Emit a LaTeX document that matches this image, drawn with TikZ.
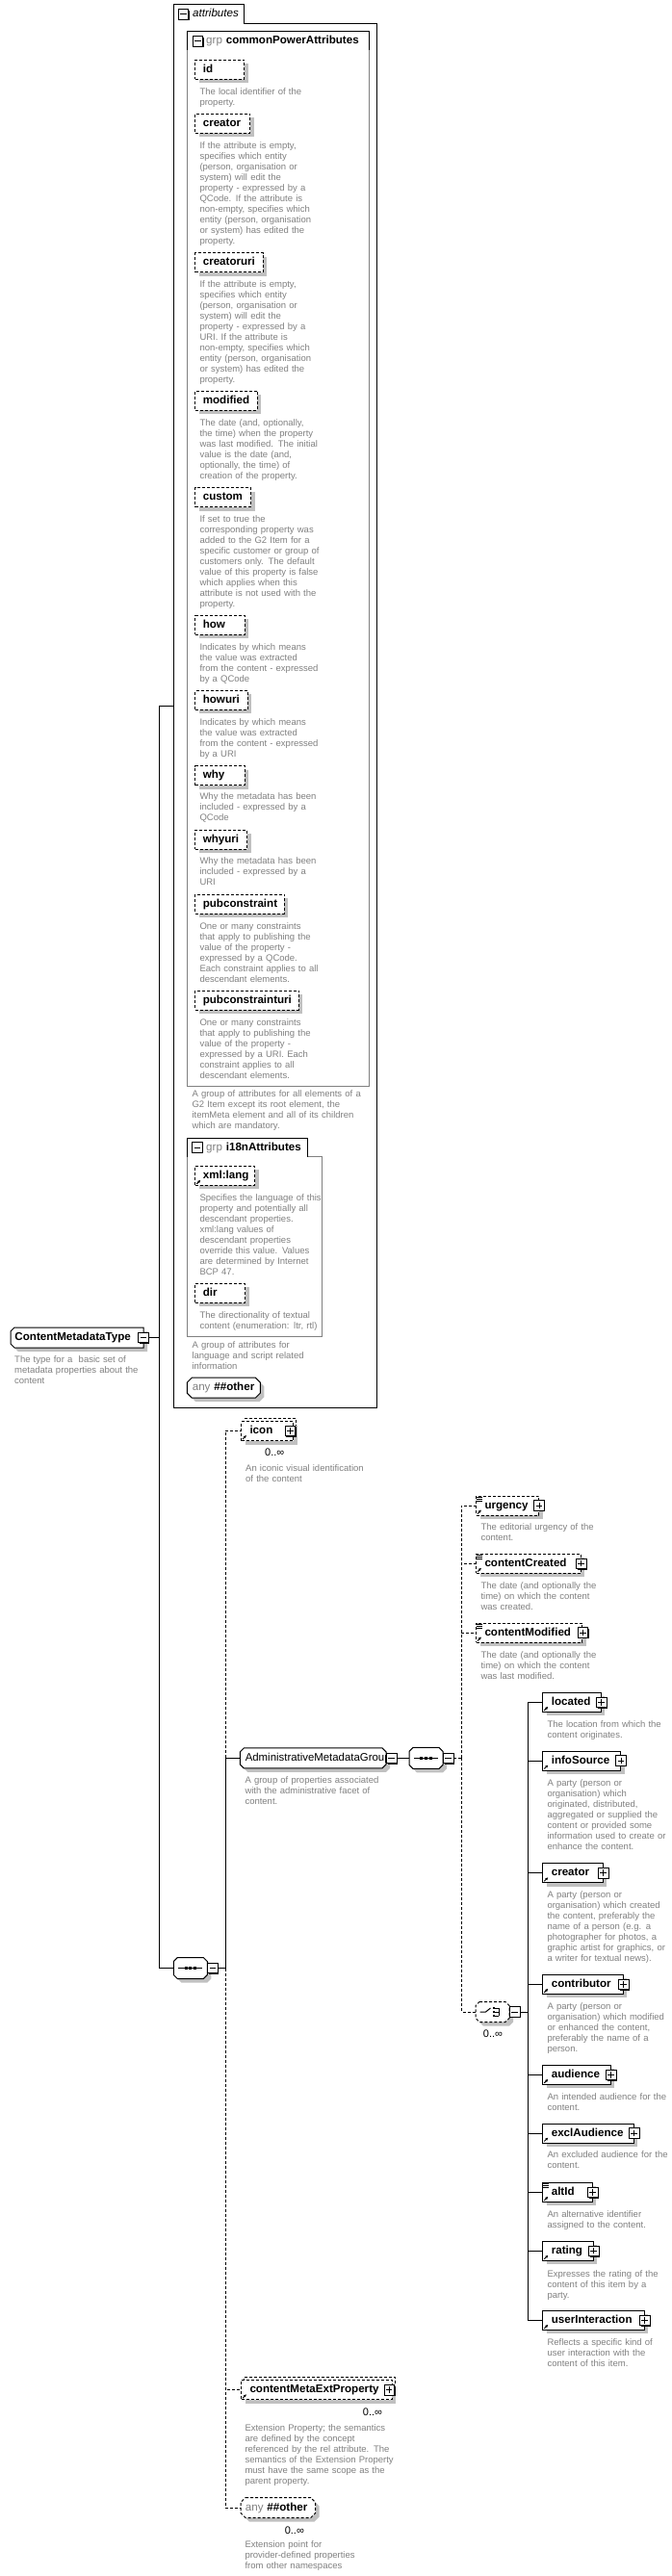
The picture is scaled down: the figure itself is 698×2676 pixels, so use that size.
\documentclass[tikz,border=0pt]{standalone}
\usepackage{fontspec}
\setmainfont{Liberation Sans}
\usetikzlibrary{arrows.meta,positioning,shadows,backgrounds}
\definecolor{descgray}{RGB}{128,128,128}
\definecolor{shadegray}{RGB}{192,192,192}
\hyphenpenalty=10000
\tikzset{
  base/.style={draw, fill=white, line width=1pt, anchor=west, align=left, minimum height=20pt, inner ysep=0pt, text height=8.6pt, text depth=2.4pt, font=\fontsize{11.6}{13}\selectfont\bfseries},
  shaded/.style={drop shadow={shadow xshift=4pt, shadow yshift=-4pt, opacity=1, fill=shadegray}},
  dashline/.style={dash pattern=on 3pt off 2pt},
  attr/.style={base, shaded, dashline, inner xsep=8pt},
  elem/.style={base, shaded, inner xsep=9pt},
  optelem/.style={elem, dashline},
  multi/.style={copy shadow={shadow xshift=3pt, shadow yshift=3pt, fill=white, draw=black, line width=1pt, dashline}},
  textonly/.style={base, draw=none, fill=none},
  compositor/.style={textonly, minimum width=34pt, minimum height=21pt},
  outline/.style={draw, fill=white, line width=1pt, shaded},
  toggle/.style={draw, fill=white, line width=0.8pt, minimum size=10.5pt, inner sep=0pt, drop shadow={shadow xshift=1.2pt, shadow yshift=-1.2pt, opacity=1, fill=black}},
  minus/.style={toggle, path picture={\draw[line width=0.8pt] ([xshift=2pt]path picture bounding box.west) -- ([xshift=-2pt]path picture bounding box.east);}},
  plus/.style={toggle, path picture={\draw[line width=0.8pt] ([xshift=2pt]path picture bounding box.west) -- ([xshift=-2pt]path picture bounding box.east) ([yshift=2pt]path picture bounding box.south) -- ([yshift=-2pt]path picture bounding box.north);}},
  desc/.style={anchor=base west, align=left, text width=240pt, inner sep=0pt, text=descgray, font=\fontsize{9.5}{11}\selectfont},
  occurs/.style={inner sep=0pt, font=\fontsize{11}{13}\selectfont},
  tab/.style={anchor=north west, align=left, minimum height=19pt, inner xsep=4pt, inner ysep=0pt, text height=8.6pt, text depth=2.4pt, font=\fontsize{11.6}{13}\selectfont\bfseries},
  container/.style={anchor=north west, inner sep=0pt},
  frame/.style={line width=1pt},
  grpline/.style={line width=1pt, draw=descgray},
  conn/.style={line width=1pt},
  optconn/.style={conn, dashline},
  refarrow/.style={-{Latex[length=3pt,width=3pt]}, line width=0.9pt}
}
\begin{document}
\begin{tikzpicture}[x=1pt, y=-1pt]
  \useasboundingbox (0,0) rectangle (698,2676);

  % Attributes frame and groups
  \node[container, minimum width=211pt, minimum height=1457.3pt] (attrs) at (180,5) {};
  \node[tab, minimum width=73pt, text width=65pt, font=\fontsize{11.6}{13}\selectfont\itshape] (attrtab) at (180,5) {\hspace*{16pt}attributes};
  \node[container, minimum width=189pt, minimum height=1095pt] (cpagrp) at (194,33) {};
  \node[tab, minimum width=189pt, text width=181pt] (cpatab) at (194,33) {\hspace*{16pt}{\mdseries\color{descgray}grp}\ commonPowerAttributes};
  \node[container, minimum width=140.3pt, minimum height=206pt] (i18ngrp) at (194,1182.3) {};
  \node[tab, minimum width=125.3pt, text width=117.3pt] (i18ntab) at (194,1182.3) {\hspace*{16pt}{\mdseries\color{descgray}grp}\ i18nAttributes};

  \draw[frame] (attrtab.south east) -| (attrs.south east) -| (attrs.north west) -| (attrtab.south east);
  \draw[frame] (cpatab.south west) |- (cpatab.north east) -- (cpatab.south east);
  \draw[grpline] (cpatab.south east) -- (cpagrp.south east) -- (cpagrp.south west) -- (cpatab.south west);
  \draw[frame] (i18ntab.south west) |- (i18ntab.north east) -- (i18ntab.south east);
  \draw[grpline] (i18ntab.south east) -| (i18ngrp.south east) -- (i18ngrp.south west) -- (i18ntab.south west);

  \node[minus] (attrtog) at ([xshift=10.5pt]attrtab.west) {};
  \node[minus] (cpatog) at ([xshift=11.3pt]cpatab.west) {};
  \node[minus] (i18ntog) at ([xshift=11pt]i18ntab.west) {};

  % commonPowerAttributes
  \node[attr, text width=35pt] (id) at (202.3,72.3) {id};
  \node[desc] (iddesc) at (207.3,98.3) {The local identifier of the\\property.};
  \node[attr, text width=41pt] (creator) at (202.3,128.3) {creator};
  \node[desc] (creatordesc) at (207.3,154) {If the attribute is empty,\\specifies which entity\\(person, organisation or\\system) will edit the\\property - expressed by a\\QCode. If the attribute is\\non-empty, specifies which\\entity (person, organisation\\or system) has edited the\\property.};
  \node[attr, text width=54.4pt] (creatoruri) at (202.3,272.7) {creatoruri};
  \node[desc] (creatoruridesc) at (207.3,298) {If the attribute is empty,\\specifies which entity\\(person, organisation or\\system) will edit the\\property - expressed by a\\URI. If the attribute is\\non-empty, specifies which\\entity (person, organisation\\or system) has edited the\\property.};
  \node[attr, text width=48.4pt] (modified) at (202.3,416) {modified};
  \node[desc] (modifieddesc) at (207.3,442.6) {The date (and, optionally,\\the time) when the property\\was last modified. The initial\\value is the date (and,\\optionally, the time) of\\creation of the property.};
  \node[attr, text width=41.7pt] (custom) at (202.3,516.7) {custom};
  \node[desc] (customdesc) at (207.3,542) {If set to true the\\corresponding property was\\added to the G2 Item for a\\specific customer or group of\\customers only. The default\\value of this property is false\\which applies when this\\attribute is not used with the\\property.};
  \node[attr, text width=35.4pt] (how) at (202.3,649.3) {how};
  \node[desc] (howdesc) at (207.3,675) {Indicates by which means\\the value was extracted\\from the content - expressed\\by a QCode};
  \node[attr, text width=38.4pt] (howuri) at (202.3,727.3) {howuri};
  \node[desc] (howuridesc) at (207.3,753.3) {Indicates by which means\\the value was extracted\\from the content - expressed\\by a URI};
  \node[attr, text width=35.4pt] (why) at (202.3,805.7) {why};
  \node[desc] (whydesc) at (207.3,830.6) {Why the metadata has been\\included - expressed by a\\QCode};
  \node[attr, text width=37.7pt] (whyuri) at (202.3,872.3) {whyuri};
  \node[desc] (whyuridesc) at (207.3,897.6) {Why the metadata has been\\included - expressed by a\\URI};
  \node[attr, text width=76.4pt] (pubconstraint) at (202.3,939) {pubconstraint};
  \node[desc] (pubconstraintdesc) at (207.3,965) {One or many constraints\\that apply to publishing the\\value of the property -\\expressed by a QCode.\\Each constraint applies to all\\descendant elements.};
  \node[attr, text width=91.4pt] (pubconstrainturi) at (202.3,1039) {pubconstrainturi};
  \node[desc] (pubconstrainturidesc) at (207.3,1065) {One or many constraints\\that apply to publishing the\\value of the property -\\expressed by a URI. Each\\constraint applies to all\\descendant elements.};
  \node[desc] (cpadesc) at (199.3,1139.3) {A group of attributes for all elements of a\\G2 Item except its root element, the\\itemMeta element and all of its children\\which are mandatory.};

  % i18nAttributes
  \node[attr, text width=45.7pt] (xmllang) at (202.3,1221.3) {xml:lang};
  \node[desc] (xmllangdesc) at (207.3,1247) {Specifies the language of this\\property and potentially all\\descendant properties.\\xml:lang values of\\descendant properties\\override this value. Values\\are determined by Internet\\BCP 47.};
  \node[attr, text width=35.7pt] (dir) at (202.3,1343.3) {dir};
  \node[desc] (dirdesc) at (207.3,1369) {The directionality of textual\\content (enumeration: ltr, rtl)};
  \node[desc] (i18ndesc) at (199.3,1400) {A group of attributes for\\language and script related\\information};
  \node[textonly, minimum width=75pt, inner xsep=5pt, text width=65pt] (anyattr) at (194.3,1441.7) {{\mdseries\color{descgray}any}\ \#\#other};

  % Content model
  \node[textonly, minimum width=137pt, inner xsep=4pt, text width=129pt] (cmt) at (11,1389.5) {ContentMetadataType};
  \node[desc] (cmtdesc) at (15,1415) {The type for a~ basic set of\\metadata properties about the\\content};
  \node[compositor] (seqmain) at (180.3,2044.5) {};
  \node[multi, optelem, text width=36pt] (icon) at (250,1486.5) {icon};
  \node[occurs] (iconocc) at (285.2,1509) {0..∞};
  \node[desc] (icondesc) at (255,1528.3) {An iconic visual identification\\of the content};
  \node[textonly, minimum width=150.7pt, inner xsep=5pt, text width=140.7pt, font=\fontsize{11.4}{13}\selectfont] (admin) at (249.3,1826.4) {AdministrativeMetadataGroup};
  \node[desc] (admindesc) at (254.3,1852) {A group of properties associated\\with the administrative facet of\\content.};
  \node[compositor] (seqa) at (425,1826.4) {};

  \node[optelem, text width=47pt] (urgency) at (494,1564) {urgency};
  \node[desc] (urgencydesc) at (499.3,1589) {The editorial urgency of the\\content.};
  \node[optelem, text width=90.7pt] (contentcreated) at (494,1624.2) {contentCreated};
  \node[desc] (contentcreateddesc) at (499.3,1650) {The date (and optionally the\\time) on which the content\\was created.};
  \node[optelem, text width=92.3pt] (contentmodified) at (494,1696) {contentModified};
  \node[desc] (contentmodifieddesc) at (499.3,1722) {The date (and optionally the\\time) on which the content\\was last modified.};
  \node[compositor, minimum height=20pt] (choice) at (494,2090) {};
  \node[occurs] (choiceocc) at (512,2112.7) {0..∞};

  \node[elem, text width=42.4pt] (located) at (563.3,1768.3) {located};
  \node[desc] (locateddesc) at (568.3,1794) {The location from which the\\content originates.};
  \node[elem, text width=62.7pt] (infosource) at (563.3,1829) {infoSource};
  \node[desc] (infosourcedesc) at (568.3,1855.6) {A party (person or\\organisation) which\\originated, distributed,\\aggregated or supplied the\\content or provided some\\information used to create or\\enhance the content.};
  \node[elem, text width=44.4pt] (creatorel) at (563.3,1945.7) {creator};
  \node[desc] (creatoreldesc) at (568.3,1971) {A party (person or\\organisation) which created\\the content, preferably the\\name of a person (e.g. a\\photographer for photos, a\\graphic artist for graphics, or\\a writer for textual news).};
  \node[elem, text width=65.4pt] (contributor) at (563.3,2061.3) {contributor};
  \node[desc] (contributordesc) at (568.3,2087.3) {A party (person or\\organisation) which modified\\or enhanced the content,\\preferably the name of a\\person.};
  \node[elem, text width=52.4pt] (audience) at (563.3,2155.3) {audience};
  \node[desc] (audiencedesc) at (568.3,2181) {An intended audience for the\\content.};
  \node[elem, text width=76.4pt] (exclaudience) at (563.3,2216) {exclAudience};
  \node[desc] (exclaudiencedesc) at (568.3,2241.6) {An excluded audience for the\\content.};
  \node[elem, text width=33.4pt] (altid) at (563.3,2277.3) {altId};
  \node[desc] (altiddesc) at (568.3,2303) {An alternative identifier\\assigned to the content.};
  \node[elem, text width=34.4pt] (rating) at (563.3,2338.2) {rating};
  \node[desc] (ratingdesc) at (568.3,2365) {Expresses the rating of the\\content of this item by a\\party.};
  \node[elem, text width=87.4pt] (userinteraction) at (563.3,2410.3) {userInteraction};
  \node[desc] (userinteractiondesc) at (568.3,2436.6) {Reflects a specific kind of\\user interaction with the\\content of this item.};

  \node[multi, optelem, text width=138.7pt] (cmep) at (250,2482.7) {contentMetaExtProperty};
  \node[occurs] (cmepocc) at (387,2506) {0..∞};
  \node[desc] (cmepdesc) at (254.3,2525) {Extension Property; the semantics\\are defined by the concept\\referenced by the rel attribute. The\\semantics of the Extension Property\\must have the same scope as the\\parent property.};
  \node[textonly, minimum width=76.7pt, inner xsep=4.3pt, text width=68pt] (anyel) at (250,2605) {{\mdseries\color{descgray}any}\ \#\#other};
  \node[occurs] (anyelocc) at (305.8,2628.3) {0..∞};
  \node[desc] (anyeldesc) at (254.3,2646.6) {Extension point for\\provider-defined properties\\from other namespaces};

  % Chamfered outlines
  \begin{scope}[on background layer]
    \foreach \n/\c/\s in {admin/4/solid, seqa/4/solid, seqmain/4/solid, choice/4/dashline, anyattr/5/solid, anyel/5/dashline}
      \draw[outline, \s] ([xshift=\c pt]\n.north west) -- ([xshift=-\c pt]\n.north east) -- ([yshift=-\c pt]\n.north east) -- ([yshift=\c pt]\n.south east) -- ([xshift=-\c pt]\n.south east) -- ([xshift=\c pt]\n.south west) -- ([yshift=\c pt]\n.south west) -- ([yshift=-\c pt]\n.north west) -- cycle;
    \draw[outline] ([xshift=4pt]cmt.north west) -- (cmt.north east) -- (cmt.south east) -- ([xshift=4pt]cmt.south west) -- ([yshift=4pt]cmt.south west) -- ([yshift=-4pt]cmt.north west) -- cycle;
  \end{scope}

  % Compositor symbols
  \foreach \n in {seqmain,seqa} {
    \draw[conn] ([xshift=5pt]\n.west) -- ([xshift=-5pt]\n.east);
    \foreach \d in {-4.7,0,4.7}
      \fill ([xshift=\d pt]\n.center) +(-1.4pt,-1.4pt) rectangle +(1.4pt,1.4pt);
  }
  \draw[conn] ([xshift=-13pt]choice.center) -- ++(6pt,0pt) -- ++(5pt,4pt);
  \foreach \d in {-4,0,4} {
    \fill ([shift={(1.5pt,\d pt)}]choice.center) +(-1.3pt,-1.3pt) rectangle +(1.3pt,1.3pt);
    \draw[line width=0.8pt] ([shift={(1.5pt,\d pt)}]choice.center) -- ++(5pt,0pt);
  }
  \draw[line width=0.8pt] ([shift={(6.5pt,-4pt)}]choice.center) -- ++(0pt,8pt);

  % Toggles
  \node[minus] (cmttog) at (cmt.east) {};
  \node[minus, anchor=west] (seqmaintog) at (seqmain.east) {};
  \node[minus, anchor=west] (admintog) at (admin.east) {};
  \node[minus, anchor=west] (seqatog) at (seqa.east) {};
  \node[minus, anchor=west] (choicetog) at (choice.east) {};
  \node[plus] (icontog) at ([xshift=-3.5pt]icon.east) {};
  \node[plus] (cmeptog) at ([xshift=-3.5pt]cmep.east) {};
  \foreach \n in {urgency,contentcreated,contentmodified,located,infosource,creatorel,contributor,audience,exclaudience,altid,rating,userinteraction}
    \node[plus] (\n tog) at (\n.east) {};

  % Marks
  \foreach \n in {xmllang,icon,urgency,contentcreated,contentmodified,located,infosource,creatorel,contributor,audience,exclaudience,altid,rating,userinteraction,cmep}
    \draw[refarrow] ([shift={(2pt,2pt)}]\n.south west) -- +(4pt,4pt);
  \foreach \n in {urgency,contentcreated,contentmodified,altid}
    \foreach \k in {1.5,3.5,5.5}
      \draw[line width=0.6pt] ([shift={(1pt,-\k pt)}]\n.north west) -- +(5.5pt,0pt);

  % Connectors
  \coordinate (split) at (165,1389.5);
  \coordinate (seqbus) at (234,2044.5);
  \coordinate (optbus) at (479.3,1826.4);
  \coordinate (choicebus) at (548.7,2090);
  \draw[conn] (cmttog.east) -- (split);
  \draw[conn] (split) |- (attrs.west);
  \draw[conn] (split) |- (seqmain.west);
  \draw[conn] (seqmaintog.east) -- (seqbus);
  \draw[conn] (seqbus) |- (admin.west);
  \draw[optconn] (admin.west -| seqbus) |- (icon.west);
  \draw[optconn] (seqbus) |- (cmep.west);
  \draw[optconn] (seqbus) |- (anyel.west);
  \draw[conn] (admintog.east) -- (seqa.west);
  \draw[optconn] (seqatog.east) -- (optbus);
  \foreach \n in {urgency,contentcreated,contentmodified,choice}
    \draw[optconn] (optbus) |- (\n.west);
  \draw[conn] (choicetog.east) -- (choicebus);
  \foreach \n in {located,infosource,creatorel,contributor,audience,exclaudience,altid,rating,userinteraction}
    \draw[conn] (choicebus) |- (\n.west);
\end{tikzpicture}
\end{document}
